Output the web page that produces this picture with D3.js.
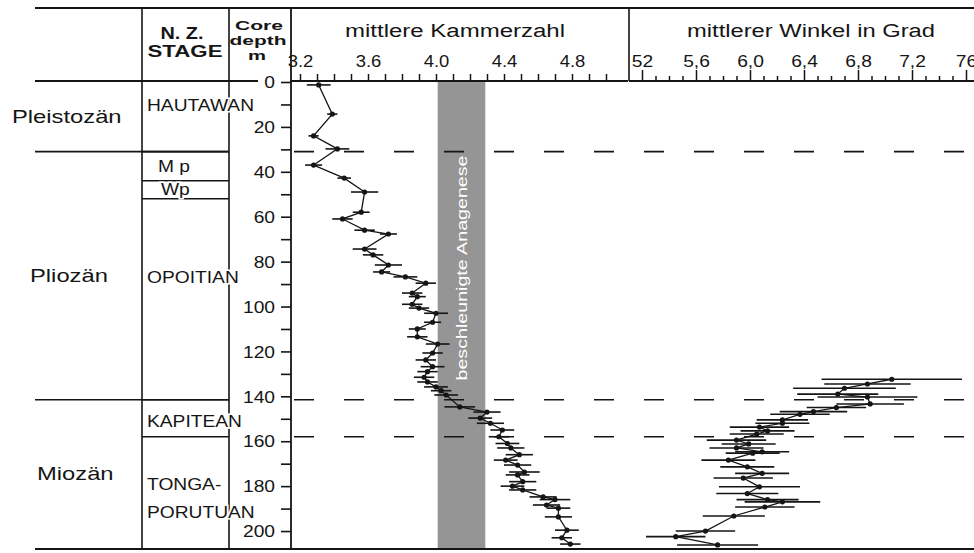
<!DOCTYPE html>
<html>
<head>
<meta charset="utf-8">
<script src="https://cdn.jsdelivr.net/npm/d3@7"></script>
<style>
  body { margin: 0; background: #fff; }
  text { font-family: "Liberation Sans", Arial, sans-serif; fill: #151515; }
</style>
</head>
<body>
<div id="chart"></div>
<script>
// ---- data ----
// mittlere Kammerzahl: core depth (m), mean, half error bar
const kamDepth = [1.3, 14.3, 24, 29.8, 37, 42.8, 49, 58, 61, 66, 67.7, 74.4, 77, 81.5, 84.6, 86.8, 89.6, 94, 95.6, 99,
  100.7, 103, 107, 110, 113.5, 116.7, 120.7, 123.8, 126.8, 129, 131.5, 133.6, 135.8, 137.5, 139.4, 144.7, 147, 149.7, 152, 155,
  158, 161, 163, 166, 168.4, 170.6, 173.7, 175, 178, 180, 181.7, 184.8, 186, 188.4, 189.8, 193.7, 199.6, 203, 205.8]
const kamMean = [3.31, 3.39, 3.28, 3.42, 3.28, 3.46, 3.58, 3.56, 3.45, 3.58, 3.72, 3.58, 3.63, 3.72, 3.68, 3.82, 3.94, 3.86, 3.89, 3.86,
  3.90, 4.00, 3.98, 3.89, 3.89, 4.01, 3.98, 3.94, 3.98, 3.95, 3.93, 3.95, 4.00, 4.03, 4.06, 4.14, 4.30, 4.26, 4.32, 4.39,
  4.37, 4.42, 4.44, 4.49, 4.41, 4.48, 4.52, 4.48, 4.51, 4.45, 4.51, 4.63, 4.70, 4.65, 4.72, 4.72, 4.77, 4.74, 4.79]
const kamErr = [0.07, 0.03, 0.03, 0.07, 0.05, 0.04, 0.08, 0.05, 0.06, 0.06, 0.05, 0.07, 0.06, 0.08, 0.05, 0.07, 0.06, 0.06, 0.05, 0.06,
  0.06, 0.07, 0.05, 0.05, 0.06, 0.07, 0.06, 0.06, 0.07, 0.06, 0.06, 0.06, 0.07, 0.06, 0.07, 0.09, 0.08, 0.07, 0.08, 0.07,
  0.06, 0.07, 0.08, 0.08, 0.07, 0.08, 0.09, 0.07, 0.08, 0.07, 0.08, 0.08, 0.09, 0.08, 0.07, 0.08, 0.07, 0.06, 0.06]

// mittlerer Winkel in Grad: core depth (m), mean, half error bar
const winDepth = [132.4, 134.5, 136.4, 139, 140.3, 143.4, 145, 146.8, 148, 150.5, 152, 153.7, 155.4, 156.8, 159.5, 161.2, 163,
  164.7, 165.3, 168.4, 171.4, 174.3, 176.4, 180.3, 183.3, 186, 187, 189.3, 193.3, 200, 202.5, 206.2]
const winMean = [70.5, 68.7, 67.0, 66.5, 68.7, 68.9, 66.4, 64.7, 63.7, 62.4, 62.4, 60.7, 61.3, 60.5, 59.0, 59.9, 59.0,
  60.9, 60.2, 58.4, 59.8, 60.9, 59.5, 60.7, 59.8, 61.3, 62.4, 61.1, 58.8, 56.7, 54.5, 57.6]
const winErr = [5.2, 3.2, 3.8, 3.0, 3.7, 2.5, 2.2, 2.5, 2.2, 1.9, 2.0, 2.2, 2.0, 2.0, 2.2, 2.0, 2.0,
  2.0, 2.0, 2.0, 2.0, 2.0, 2.2, 3.0, 2.3, 2.3, 2.8, 2.2, 2.3, 2.2, 2.2, 3.0]

// stratigraphy
const epochNames = ["Pleistozän", "Pliozän", "Miozän"]
const epochTop = [0, 31, 141.5]
const epochBottom = [31, 141.5, 208]
const stageNames = ["HAUTAWAN", "M p", "Wp", "OPOITIAN", "KAPITEAN", "TONGA-|PORUTUAN"]
const stageBottom = [31, 44, 52, 141.5, 158, 208]
const dashedDepths = [31, 141.5, 158]

// axes
const depthTicks = d3.range(0, 201, 10)
const kamTicks = d3.range(32, 51).map(d => d / 10)
const kamLabelValues = [3.2, 3.6, 4.0, 4.4, 4.8]
const kamLabels = ["3.2", "3.6", "4.0", "4.4", "4.8"]
const winTicks = d3.range(52, 77)
const winLabelValues = [52, 56, 60, 64, 68, 72, 76]
const winLabels = ["52", "5,6", "6,0", "6,4", "6,8", "7,2", "76"]

// anagenesis band (Kammerzahl units)
const bandRange = [4.01, 4.29]

// ---- setup ----
const svgWidth = 974, svgHeight = 553
const svg = d3.select('#chart').append('svg')
  .attr('width', svgWidth).attr('height', svgHeight)

const yScale = d3.scaleLinear().domain([0, 208]).range([82, 549])
const xKam = d3.scaleLinear().domain([3.2, 5.0]).range([300, 606])
const xWin = d3.scaleLinear().domain([52, 76]).range([642, 966])

const ink = '#151515'

// stretch text horizontally like the scanned lettering
function stretch(sel, f) {
  sel.each(function () {
    const len = this.getComputedTextLength()
    d3.select(this).attr('textLength', len * f).attr('lengthAdjust', 'spacingAndGlyphs')
  })
}
function line(x1, y1, x2, y2, w) {
  return svg.append('line').attr('x1', x1).attr('y1', y1).attr('x2', x2).attr('y2', y2)
    .attr('stroke', ink).attr('stroke-width', w || 1.6)
}

// gray band
svg.append('rect')
  .attr('x', xKam(bandRange[0])).attr('y', yScale(0))
  .attr('width', xKam(bandRange[1]) - xKam(bandRange[0]))
  .attr('height', yScale(208) - yScale(0))
  .attr('fill', '#959595')

svg.append('text')
  .attr('transform', `translate(${(xKam(bandRange[0]) + xKam(bandRange[1])) / 2 + 5},268) rotate(-90)`)
  .attr('text-anchor', 'middle')
  .attr('font-size', 15)
  .style('fill', '#fff')
  .attr('textLength', 225).attr('lengthAdjust', 'spacingAndGlyphs')
  .text('beschleunigte Anagenese')

// frame
line(35, 8, 974, 8, 2)
line(35, 81, 258, 81, 1.8)
line(35, 549, 974, 549, 2.2)
line(142, 8, 142, 549)
line(229, 8, 229, 549)
line(629, 8, 629, 81)

// epoch boundaries (solid on the left)
epochTop.slice(1).forEach(d => line(35, yScale(d), 229, yScale(d)))
// stage boundaries inside stage column
stageBottom.slice(0, -1).forEach(d => line(142, yScale(d), 229, yScale(d)))

// dashed correlation lines
svg.selectAll('.dash').data(dashedDepths).join('line')
  .attr('class', 'dash')
  .attr('x1', 294).attr('x2', 974)
  .attr('y1', d => yScale(d)).attr('y2', d => yScale(d))
  .attr('stroke', ink).attr('stroke-width', 1.6)
  .attr('stroke-dasharray', '20,30')

// depth axis
const yAxis = d3.axisLeft(yScale)
  .tickValues(depthTicks)
  .tickSize(10)
  .tickPadding(6)
  .tickFormat(d => d % 20 === 0 ? d : '')
const gy = svg.append('g').attr('transform', 'translate(291,0)').call(yAxis)
gy.select('.domain').remove()
gy.selectAll('.tick line').attr('stroke', ink).attr('stroke-width', 1.6)
gy.selectAll('.tick text').attr('font-size', 16).attr('dy', '0.36em')
  .style('font-family', '"Liberation Sans", Arial, sans-serif')
stretch(gy.selectAll('.tick text'), 1.2)
line(291, 8, 291, 549, 1.8)

// Kammerzahl axis
const kamAxis = d3.axisTop(xKam)
  .tickValues(kamTicks)
  .tickSize(7)
  .tickPadding(7)
  .tickFormat(d => {
    const i = kamLabelValues.findIndex(v => Math.abs(v - d) < 1e-6)
    return i >= 0 ? kamLabels[i] : ''
  })
const gk = svg.append('g').attr('transform', 'translate(0,81)').call(kamAxis)
gk.select('.domain').remove()
gk.selectAll('.tick line').attr('stroke', ink).attr('stroke-width', 1.5)
gk.selectAll('.tick text').attr('font-size', 16)
  .style('font-family', '"Liberation Sans", Arial, sans-serif')
stretch(gk.selectAll('.tick text'), 1.15)
line(290, 81, 628, 81, 1.8)

// Winkel axis
const winAxis = d3.axisTop(xWin)
  .tickValues(winTicks)
  .tickSize(5)
  .tickPadding(9)
  .tickFormat(d => {
    const i = winLabelValues.indexOf(d)
    return i >= 0 ? winLabels[i] : ''
  })
const gw = svg.append('g').attr('transform', 'translate(0,81)').call(winAxis)
gw.select('.domain').remove()
gw.selectAll('.tick line').attr('stroke', ink).attr('stroke-width', 1.5)
  .attr('y2', d => winLabelValues.includes(d) ? -11 : -5)
gw.selectAll('.tick text').attr('font-size', 16)
  .style('font-family', '"Liberation Sans", Arial, sans-serif')
stretch(gw.selectAll('.tick text'), 1.2)
line(629, 81, 974, 81, 1.8)

// header titles
svg.append('text').attr('x', 455).attr('y', 37).attr('text-anchor', 'middle')
  .attr('font-size', 18).attr('textLength', 220).attr('lengthAdjust', 'spacingAndGlyphs')
  .text('mittlere Kammerzahl')
svg.append('text').attr('x', 811).attr('y', 37).attr('text-anchor', 'middle')
  .attr('font-size', 18).attr('textLength', 248).attr('lengthAdjust', 'spacingAndGlyphs')
  .text('mittlerer Winkel in Grad')

const header = [
  { t: 'N. Z.', x: 182, y: 39, s: 16, w: 43 },
  { t: 'STAGE', x: 185, y: 57, s: 16, w: 75 },
  { t: 'Core', x: 259, y: 30, s: 13, w: 48 },
  { t: 'depth', x: 258, y: 45, s: 13, w: 57 },
  { t: 'm', x: 257, y: 60, s: 13, w: 18 }
]
svg.selectAll('.hdr').data(header).join('text')
  .attr('class', 'hdr')
  .attr('x', d => d.x).attr('y', d => d.y)
  .attr('text-anchor', 'middle').attr('font-weight', 'bold')
  .attr('font-size', d => d.s)
  .attr('textLength', d => d.w).attr('lengthAdjust', 'spacingAndGlyphs')
  .text(d => d.t)

// epoch labels
svg.selectAll('.epoch').data(epochNames).join('text')
  .attr('class', 'epoch')
  .attr('x', 12)
  .attr('y', (d, i) => (yScale(epochTop[i]) + yScale(epochBottom[i])) / 2 + 6)
  .attr('font-size', 19)
  .text(d => d)
  .call(stretch, 1.25)
svg.selectAll('.epoch').attr('x', (d, i) => [12, 30, 37][i])

// stage labels (white halo hides the column rule where text runs across it)
const stageLabelY = [111, 172, 195, 283, 427, 490]
const stageLabelX = [147, 158, 161, 147, 147, 147]
stageNames.forEach((name, i) => {
  const parts = name.split('|')
  parts.forEach((p, j) => {
    const t = svg.append('text')
      .attr('x', stageLabelX[i]).attr('y', stageLabelY[i] + j * 28)
      .attr('font-size', 16)
      .attr('stroke', '#fff').attr('stroke-width', 3).attr('paint-order', 'stroke')
      .text(p)
    stretch(t, 1.2)
  })
})

// series
function drawSeries(xs, depth, mean, err) {
  const pts = depth.map((d, i) => ({ d, m: mean[i], e: err[i] }))
  const g = svg.append('g')
  g.selectAll('line.err').data(pts).join('line')
    .attr('class', 'err')
    .attr('x1', p => xs(p.m - p.e)).attr('x2', p => xs(p.m + p.e))
    .attr('y1', p => yScale(p.d)).attr('y2', p => yScale(p.d))
    .attr('stroke', ink).attr('stroke-width', 1.6)
  g.append('path')
    .datum(pts)
    .attr('d', d3.line().x(p => xs(p.m)).y(p => yScale(p.d)))
    .attr('fill', 'none').attr('stroke', ink).attr('stroke-width', 1.3)
  g.selectAll('circle').data(pts).join('circle')
    .attr('cx', p => xs(p.m)).attr('cy', p => yScale(p.d))
    .attr('r', 2.6).attr('fill', ink)
}
drawSeries(xKam, kamDepth, kamMean, kamErr)
drawSeries(xWin, winDepth, winMean, winErr)
</script>
</body>
</html>
